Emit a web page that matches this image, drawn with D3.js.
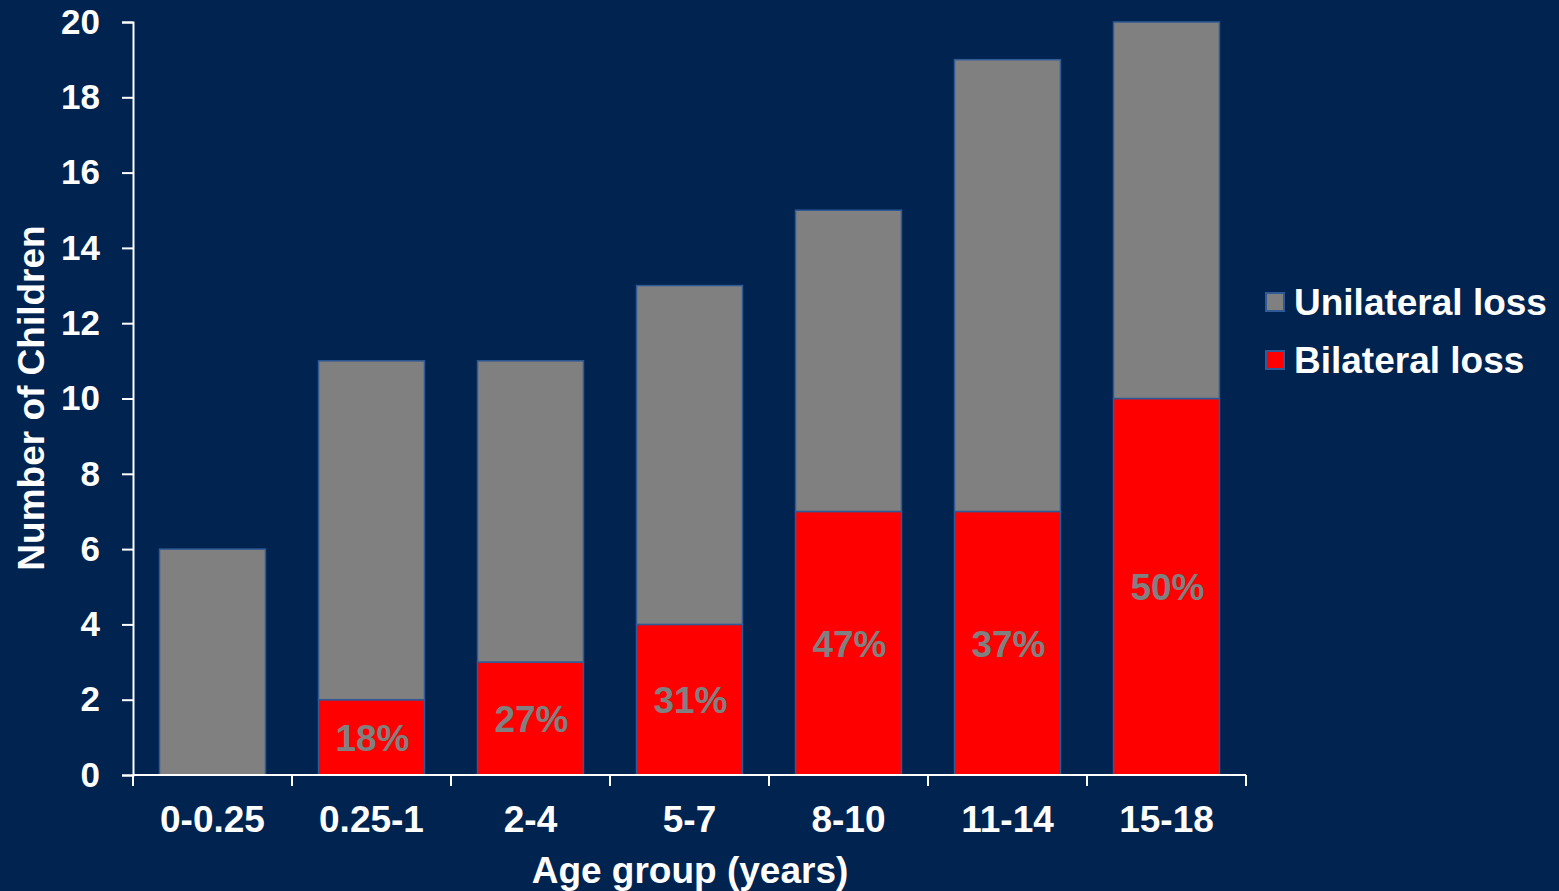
<!DOCTYPE html>
<html>
<head>
<meta charset="utf-8">
<script src="https://cdn.jsdelivr.net/npm/d3@7"></script>
<style>
  html, body { margin: 0; padding: 0; background: #00234F; }
  svg { display: block; }
  text { font-family: "Liberation Sans", Arial, sans-serif; font-weight: bold; }
</style>
</head>
<body>
<svg id="chart" width="1559" height="891"></svg>
<script>
// Hearing loss by age group
const ageGroups = ["0-0.25", "0.25-1", "2-4", "5-7", "8-10", "11-14", "15-18"];
const bilateral = [0, 2, 3, 4, 7, 7, 10];
const unilateral = [6, 9, 8, 9, 8, 12, 10];
const yTicks = [0, 2, 4, 6, 8, 10, 12, 14, 16, 18, 20];
const seriesNames = ["Unilateral loss", "Bilateral loss"];

const colors = { bg: "#00234F", uni: "#808080", bi: "#FF0000", edge: "#2F5A96", axis: "#FFFFFF" };

const svg = d3.select("#chart");
const W = 1559, H = 891;
svg.append("rect").attr("width", W).attr("height", H).attr("fill", colors.bg);

const plotLeft = 133, plotRight = 1246, plotTop = 22, plotBottom = 775;

const x = d3.scaleBand().domain(ageGroups).range([plotLeft, plotRight])
  .paddingInner(1 / 3).paddingOuter(1 / 6);
const y = d3.scaleLinear().domain([0, 20]).range([plotBottom, plotTop]);

const rows = ageGroups.map((g, i) => ({
  group: g, bi: bilateral[i], uni: unilateral[i], total: bilateral[i] + unilateral[i]
}));

const g = svg.append("g");

// stacked bars: bilateral at bottom, unilateral on top
const stack = d3.stack().keys(["bi", "uni"])(rows);
const fills = { bi: colors.bi, uni: colors.uni };
stack.forEach(layer => {
  g.selectAll(null).data(layer.filter(d => d[1] > d[0])).enter().append("rect")
    .attr("x", d => x(d.data.group))
    .attr("width", x.bandwidth())
    .attr("y", d => y(d[1]))
    .attr("height", d => y(d[0]) - y(d[1]))
    .attr("fill", fills[layer.key])
    .attr("stroke", colors.edge)
    .attr("stroke-width", 1.5);
});

// percentage labels inside the bilateral segment
g.selectAll(null).data(rows.filter(d => d.bi > 0)).enter().append("text")
  .attr("x", d => x(d.group) + x.bandwidth() / 2 + 1)
  .attr("y", d => (y(0) + y(d.bi)) / 2)
  .attr("dy", "0.36em")
  .attr("text-anchor", "middle")
  .attr("fill", "#808080")
  .attr("font-size", 37)
  .text(d => Math.round(d.bi / d.total * 100) + "%");

// y axis
const yAxis = d3.axisLeft(y).tickValues(yTicks).tickSize(11).tickPadding(22);
const ya = svg.append("g").attr("transform", `translate(${plotLeft},0)`).call(yAxis);
ya.select(".domain").attr("stroke", colors.axis).attr("stroke-width", 2);
ya.selectAll(".tick line").attr("stroke", colors.axis).attr("stroke-width", 2);
ya.selectAll(".tick text").attr("fill", "#FFFFFF").attr("font-size", 35)
  .style("font-family", "'Liberation Sans', Arial, sans-serif").style("font-weight", "bold");

// x axis: ticks at category boundaries
const xa = svg.append("g").attr("transform", `translate(0,${plotBottom})`);
xa.append("line").attr("x1", plotLeft).attr("x2", plotRight).attr("y1", 0).attr("y2", 0)
  .attr("stroke", colors.axis).attr("stroke-width", 2);
const step = x.step();
const bounds = d3.range(ageGroups.length + 1).map(i => plotLeft + i * step);
xa.selectAll(null).data(bounds).enter().append("line")
  .attr("x1", d => d).attr("x2", d => d).attr("y1", 0).attr("y2", 11)
  .attr("stroke", colors.axis).attr("stroke-width", 2);
xa.selectAll(null).data(ageGroups).enter().append("text")
  .attr("x", d => x(d) + x.bandwidth() / 2)
  .attr("y", 57)
  .attr("text-anchor", "middle")
  .attr("fill", "#FFFFFF")
  .attr("font-size", 37)
  .text(d => d);

// axis titles
svg.append("text")
  .attr("transform", `translate(44,398) rotate(-90)`)
  .attr("text-anchor", "middle")
  .attr("fill", "#FFFFFF").attr("font-size", 37)
  .text("Number of Children");
svg.append("text")
  .attr("x", 690).attr("y", 883)
  .attr("text-anchor", "middle")
  .attr("fill", "#FFFFFF").attr("font-size", 37)
  .text("Age group (years)");

// legend
const legend = svg.append("g");
const legendItems = [
  { name: seriesNames[0], color: colors.uni, y: 302 },
  { name: seriesNames[1], color: colors.bi, y: 360 }
];
legendItems.forEach(it => {
  legend.append("rect").attr("x", 1266).attr("y", it.y - 9).attr("width", 18).attr("height", 18)
    .attr("fill", it.color).attr("stroke", colors.edge).attr("stroke-width", 2);
  legend.append("text").attr("x", 1294).attr("y", it.y).attr("dy", "0.36em")
    .attr("fill", "#FFFFFF").attr("font-size", 37).text(it.name);
});
</script>
</body>
</html>
